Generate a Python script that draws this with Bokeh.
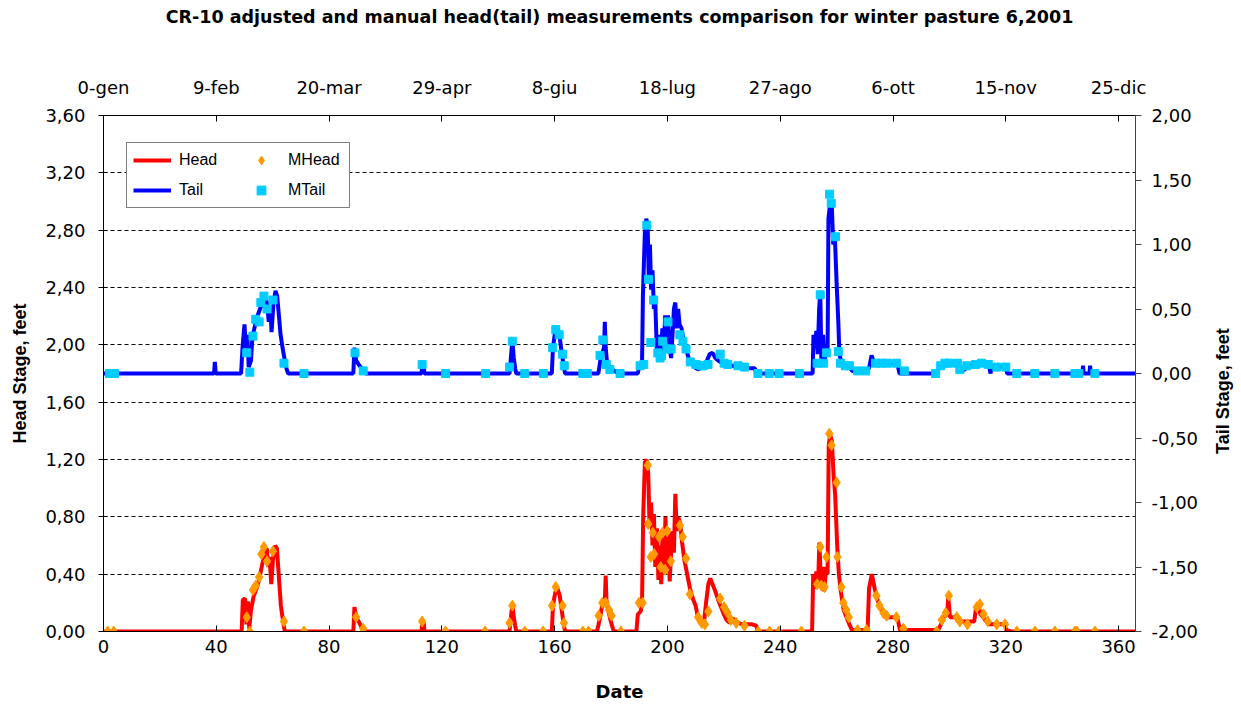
from bokeh.plotting import figure
from bokeh.layouts import row
from bokeh.models import (Range1d, LinearAxis, FixedTicker, CustomJSTickFormatter,
                          Legend, LegendItem, Label, Grid, ColumnDataSource)
from bokeh.embed import file_html
from bokeh.resources import INLINE

# ---------------- data ----------------
title_text = "CR-10 adjusted and manual head(tail) measurements comparison for winter pasture 6,2001"
left_title = "Head Stage, feet"
right_title = "Tail Stage, feet"
bottom_title = "Date"

x_ticks = [0, 40, 80, 120, 160, 200, 240, 280, 320, 360]
top_labels = ["0-gen", "9-feb", "20-mar", "29-apr", "8-giu", "18-lug", "27-ago", "6-ott", "15-nov", "25-dic"]
head_ticks = [0.0, 0.4, 0.8, 1.2, 1.6, 2.0, 2.4, 2.8, 3.2, 3.6]
tail_ticks = [-2.0, -1.5, -1.0, -0.5, 0.0, 0.5, 1.0, 1.5, 2.0]

head_line = [(0, 0), (49, 0), (49.4, 0.22), (50.2, 0.23), (50.7, 0.05), (51.2, 0.21), (51.7, 0.02), (52.3, 0.15),
             (53.3, 0.25), (54.3, 0.30), (55.3, 0.37), (56.3, 0.47), (57.2, 0.55), (57.9, 0.58), (58.4, 0.45),
             (58.9, 0.52), (59.5, 0.33), (60.1, 0.50), (60.9, 0.60), (61.5, 0.58), (62.2, 0.38), (62.9, 0.18),
             (63.7, 0.07), (64.3, 0),
             (88.6, 0), (89, 0.17), (89.6, 0.10), (90.5, 0.07), (91.5, 0.03), (92.5, 0),
             (112.8, 0), (113, 0.06), (113.6, 0.06), (113.8, 0),
             (144, 0), (144.4, 0.08), (145, 0.19), (145.5, 0.10), (146, 0.04), (146.4, 0),
             (159, 0), (159.4, 0.18), (160.2, 0.27), (161, 0.30), (161.8, 0.25), (162.5, 0.15), (163.2, 0.05), (163.7, 0),
             (175, 0), (175.6, 0.05), (176.3, 0.12), (177, 0.20), (177.8, 0.21), (178.1, 0.39), (178.4, 0.20),
             (179, 0.15), (179.8, 0.08), (180.5, 0.03), (181, 0),
             (189, 0), (189.5, 0.12), (190.5, 0.14), (191, 0.20), (191.4, 0.80), (192, 1.18), (192.6, 1.20),
             (193.2, 1.10), (193.6, 0.78), (194.2, 0.90), (194.7, 0.60), (195.2, 0.82), (195.7, 0.45), (196.3, 0.72),
             (196.8, 0.36), (197.3, 0.60), (197.8, 0.33), (198.3, 0.70), (198.8, 0.45), (199.3, 0.80), (199.8, 0.42),
             (200.3, 0.72), (200.8, 0.35), (201.3, 0.55), (201.8, 0.70), (202.3, 0.55), (202.8, 0.96), (203.3, 0.70),
             (203.8, 0.80), (204.5, 0.76), (205.2, 0.62), (206, 0.50), (207, 0.40), (208, 0.30), (209, 0.23),
             (210, 0.18), (210.8, 0.10), (211.5, 0.06), (212.3, 0.05), (213, 0.07), (213.7, 0.20), (214.5, 0.33),
             (215.2, 0.37), (216, 0.33), (217, 0.28), (218, 0.22), (219, 0.17), (220, 0.12), (221, 0.08),
             (222, 0.06), (223, 0.09), (224, 0.08), (225, 0.06), (226.5, 0.05), (228, 0.05), (230, 0.05),
             (231.5, 0.04), (232, 0),
             (251.3, 0), (251.7, 0.40), (252.3, 0.30), (252.8, 0.42), (253.4, 0.32), (253.9, 0.62), (254.4, 0.35),
             (255, 0.45), (255.6, 0.28), (256.3, 0.45), (256.8, 0.40), (257.2, 1.30), (257.7, 1.37), (258.3, 1.33),
             (258.9, 1.10), (259.5, 0.95), (260.2, 0.60), (260.8, 0.40), (261.5, 0.28), (262.5, 0.15), (263.5, 0.10),
             (264.5, 0.05), (265.5, 0.01),
             (271, 0.01), (271.5, 0.30), (272.5, 0.40), (273.5, 0.30), (274.5, 0.22), (275.5, 0.17), (276.5, 0.12),
             (277.5, 0.10), (279, 0.10), (281.5, 0.10), (282.5, 0.01),
             (296, 0.01), (297, 0.05), (298, 0.10), (299.2, 0.12), (299.6, 0.24), (300.2, 0.10), (302.5, 0.10),
             (303, 0.07), (308.8, 0.07), (309.5, 0.17), (310.3, 0.19), (311, 0.12), (312, 0.10), (313, 0.07),
             (314, 0.05), (319.5, 0.05), (320.2, 0.01), (322, 0), (366, 0)]

tail_line = [(0, 0), (39.2, 0), (39.5, 0.09), (39.8, 0),
             (48.8, 0), (49.3, 0.20), (50, 0.38), (50.5, 0.20), (51, 0.30), (51.5, 0.05), (52.3, 0.10), (52.8, 0.28),
             (53.5, 0.35), (54.5, 0.44), (55.5, 0.50), (56.5, 0.55), (57.3, 0.58), (58, 0.55), (58.6, 0.40),
             (59.2, 0.50), (59.6, 0.32), (60.3, 0.55), (61, 0.64), (61.6, 0.60), (62.2, 0.45), (62.8, 0.30),
             (63.5, 0.20), (64.3, 0.10), (65, 0.03), (65.5, 0),
             (88.6, 0), (89, 0.20), (89.6, 0.10), (90.5, 0.07), (91.5, 0.04), (92.5, 0.02), (93, 0),
             (112.8, 0), (113, 0.06), (113.6, 0.06), (113.8, 0),
             (144, 0), (144.4, 0.10), (145, 0.26), (145.5, 0.12), (146, 0.04), (146.4, 0),
             (159, 0), (159.4, 0.20), (160.2, 0.33), (161, 0.35), (161.8, 0.28), (162.5, 0.16), (163.2, 0.06), (163.7, 0),
             (175.5, 0), (176.2, 0.10), (176.8, 0.15), (177.5, 0.20), (177.8, 0.40), (178.1, 0.20), (178.6, 0.08),
             (179.5, 0.05), (180.5, 0.03), (182, 0.01), (183, 0),
             (189.5, 0), (190, 0.06), (191, 0.08), (191.3, 0.60), (192, 1.10), (192.5, 1.20), (193, 1.15),
             (193.4, 0.70), (193.8, 1.00), (194.2, 0.65), (194.7, 0.80), (195.2, 0.50), (195.7, 0.55), (196.2, 0.20),
             (196.7, 0.12), (197.2, 0.30), (197.7, 0.15), (198.2, 0.35), (198.7, 0.20), (199.2, 0.45), (199.7, 0.25),
             (200.2, 0.45), (200.7, 0.20), (201.3, 0.12), (201.8, 0.30), (202.3, 0.50), (202.8, 0.55), (203.3, 0.35),
             (203.8, 0.50), (204.3, 0.38), (205, 0.35), (205.8, 0.25), (206.5, 0.20), (207.5, 0.12), (208.5, 0.08),
             (209.5, 0.05), (211, 0.03), (212, 0.05), (213, 0.06), (214, 0.10), (215, 0.15), (216, 0.16),
             (217, 0.12), (218, 0.10), (219.5, 0.08), (221, 0.07), (223, 0.06), (225, 0.05), (227, 0.05),
             (229, 0.04), (231, 0.04), (231.5, 0),
             (251.5, 0), (251.8, 0.30), (252.3, 0.20), (252.8, 0.33), (253.3, 0.15), (253.8, 0.50), (254.2, 0.64),
             (254.6, 0.10), (255.2, 0.30), (255.7, 0.08), (256.3, 0.20), (256.8, 0.15), (257.1, 1.20), (257.6, 1.30),
             (258.3, 1.30), (258.8, 1.00), (259.4, 1.05), (260, 0.70), (260.6, 0.40), (261, 0.15), (261.8, 0.08),
             (263, 0.06), (264.5, 0.05), (265.5, 0.02), (271, 0.02), (271.6, 0.05), (272.4, 0.14), (273, 0.10),
             (274, 0.08), (281.5, 0.08), (282.3, 0),
             (295.5, 0), (296.5, 0.05), (297.5, 0.08), (303.3, 0.08), (303.7, 0.03), (305.5, 0.03), (306, 0.07),
             (308.5, 0.07), (309, 0.08), (313.5, 0.08), (314.2, 0.04), (314.6, 0.0), (315, 0.06), (316, 0.05),
             (320, 0.05), (320.5, 0),
             (347.2, 0), (347.4, 0.06), (347.6, 0), (349.7, 0), (349.9, 0.06), (350.1, 0), (366, 0)]

mhead_pts = [(1.5, 0), (3.6, 0), (50.8, 0.10), (51.9, 0), (53, 0.29), (54, 0.32), (55.2, 0.38), (56, 0.54),
             (56.9, 0.59), (58, 0.49), (60.1, 0.56), (64, 0.07), (71.1, 0), (89.6, 0.10), (92.1, 0.02), (113, 0.07),
             (121.3, 0), (135.3, 0), (144, 0.06), (145, 0.18), (149.4, 0), (155.9, 0), (159.1, 0.18), (160.4, 0.31),
             (162.8, 0.18), (163.3, 0.06), (170, 0), (172, 0), (175.6, 0.11), (176.9, 0.20), (178.1, 0.20),
             (179.3, 0.15), (180.2, 0.11), (183.5, 0), (189.9, 0.20), (191.2, 0.20), (193, 1.16), (193.2, 0.75),
             (194.1, 0.52), (194.8, 0.69), (195.3, 0.54), (197, 0.66), (197.6, 0.45), (198.3, 0.69), (199.2, 0.43),
             (199.9, 0.70), (201.2, 0.49), (204.4, 0.74), (205.4, 0.66), (206.6, 0.51), (208, 0.26), (210.9, 0.10),
             (212.2, 0.06), (213.3, 0.05), (214.5, 0.14), (218.7, 0.23), (220.1, 0.17), (221.3, 0.13), (222.5, 0.08),
             (224.4, 0.06), (227.3, 0.04), (232.2, 0), (236.2, 0), (239.5, 0), (247.5, 0), (253.1, 0.33),
             (254.2, 0.59), (254.6, 0.32), (255.7, 0.31), (256.4, 0.52), (257.4, 1.38), (258.2, 1.30), (260, 1.04),
             (260.3, 0.52), (261.7, 0.31), (262.4, 0.20), (263.4, 0.15), (264.3, 0.10), (267.4, 0.01), (270.6, 0.01),
             (274.1, 0.25), (275.2, 0.18), (276.6, 0.13), (277.7, 0.11), (281.2, 0.10), (283.7, 0.02), (295.5, 0),
             (297.3, 0.08), (298.7, 0.13), (299.8, 0.25), (302.6, 0.10), (303.7, 0.07), (306.4, 0.05), (309.7, 0.17),
             (310.8, 0.19), (312.1, 0.12), (313.6, 0.07), (316.8, 0.05), (319.7, 0.05), (323.9, 0), (330.3, 0),
             (337.4, 0), (344.5, 0), (345.2, 0), (351.6, 0)]

mtail_pts = [(2.1, 0), (3.9, 0), (50.8, 0.16), (51.9, 0.01), (53, 0.29), (54, 0.42), (55.2, 0.40), (55.8, 0.55),
             (56.9, 0.60), (58, 0.50), (60.1, 0.57), (64, 0.08), (71.1, 0), (89.2, 0.16), (92.1, 0.02), (113, 0.07),
             (121.3, 0), (135.5, 0), (144, 0.05), (145, 0.25), (149.4, 0), (156, 0), (159.3, 0.20), (160.4, 0.34),
             (161.6, 0.30), (162.8, 0.15), (163.4, 0.06), (170, 0), (171.6, 0), (176.1, 0.14), (177.1, 0.26),
             (178.3, 0.07), (179.6, 0.03), (183.2, 0), (190.3, 0.06), (191.6, 0.07), (192.7, 1.15), (193.3, 0.73),
             (194.1, 0.24), (195.1, 0.57), (196.6, 0.16), (197.4, 0.12), (197.9, 0.14), (198.3, 0.25), (199.8, 0.19),
             (200.2, 0.40), (201.3, 0.19), (204.4, 0.30), (205.5, 0.25), (206.6, 0.19), (208.1, 0.09), (210.1, 0.07),
             (211.9, 0.06), (212.7, 0.06), (214.4, 0.07), (218.7, 0.15), (220.1, 0.08), (221.4, 0.07), (225, 0.06),
             (227.3, 0.05), (232.1, 0), (236.1, 0), (239.6, 0), (246.8, 0), (253.1, 0.08), (254.2, 0.61),
             (255.4, 0.08), (256.4, 0.16), (257.5, 1.39), (258.1, 1.32), (259.6, 1.06), (260.6, 0.17), (261.4, 0.08),
             (263.1, 0.06), (264.5, 0.06), (267.4, 0.02), (270.3, 0.02), (273.8, 0.08), (275.9, 0.08), (278, 0.08),
             (281.2, 0.08), (284, 0.02), (295.1, 0), (296.9, 0.06), (298.4, 0.08), (299.8, 0.08), (302.9, 0.08),
             (303.7, 0.03), (306.2, 0.06), (309.3, 0.07), (311.4, 0.08), (313.8, 0.07), (316.8, 0.05), (320, 0.05),
             (323.9, 0), (330.3, 0), (337.4, 0), (344.5, 0), (345.9, 0), (351.6, 0)]

# ---------------- styling ----------------
WIDE = "DejaVu Sans"
ARIAL = "Liberation Sans"
FMT = "return tick.toFixed(2).replace('.', ',');"
MAIN_W = 1205
SIDE_W = 36
H = 704

p = figure(width=MAIN_W, height=H, output_backend="svg", toolbar_location=None,
           x_range=Range1d(0, 366), y_range=Range1d(0, 3.6),
           x_axis_location=None, y_axis_location=None,
           min_border_left=103, min_border_right=70, min_border_top=115, min_border_bottom=73,
           background_fill_color="white", border_fill_color="white")
p.extra_y_ranges = {"tail": Range1d(-2, 2)}
p.outline_line_color = "black"
p.outline_line_width = 1
for g in p.grid:
    g.visible = False

grid = Grid(dimension=1, ticker=FixedTicker(ticks=head_ticks[1:-1]),
            grid_line_color="black", grid_line_dash="4 3", grid_line_width=1)
p.add_layout(grid)


def style_axis(ax):
    ax.major_label_text_font = WIDE
    ax.major_label_text_font_size = "18px"
    ax.major_label_text_color = "black"
    ax.axis_label_text_font = ARIAL
    ax.axis_label_text_font_size = "18px"
    ax.axis_label_text_font_style = "bold"
    ax.axis_label_text_color = "black"
    ax.axis_line_color = "black"
    ax.major_tick_line_color = "black"
    ax.minor_tick_line_color = None


left = LinearAxis(ticker=FixedTicker(ticks=head_ticks), formatter=CustomJSTickFormatter(code=FMT),
                  axis_label=left_title)
style_axis(left)
left.major_tick_in = 4
left.major_tick_out = 5
left.major_label_standoff = 13
left.axis_label_standoff = 12
p.add_layout(left, "left")

right = LinearAxis(y_range_name="tail", ticker=FixedTicker(ticks=tail_ticks),
                   formatter=CustomJSTickFormatter(code=FMT))
style_axis(right)
right.major_tick_in = 0
right.major_tick_out = 6
right.major_label_standoff = 10
right.axis_line_color = "#444444"
right.major_tick_line_color = "#444444"
p.add_layout(right, "right")

bottom = LinearAxis(ticker=FixedTicker(ticks=x_ticks), axis_label=bottom_title)
style_axis(bottom)
bottom.axis_label_text_font = WIDE
bottom.major_tick_in = 6
bottom.major_tick_out = 0
bottom.major_label_standoff = 8
bottom.axis_label_standoff = 25
p.add_layout(bottom, "below")

# the chart title is carried by the top (date) axis as its axis label
top = LinearAxis(ticker=FixedTicker(ticks=x_ticks),
                 major_label_overrides={t: s for t, s in zip(x_ticks, top_labels)},
                 axis_label=title_text)
style_axis(top)
top.axis_label_text_font = WIDE
top.axis_label_text_font_size = "17.5px"
top.major_tick_in = 6
top.major_tick_out = 0
top.major_label_standoff = 18
top.axis_label_standoff = 47
p.add_layout(top, "above")

hs = ColumnDataSource(dict(x=[a for a, b in head_line], y=[b for a, b in head_line]))
ts = ColumnDataSource(dict(x=[a for a, b in tail_line], y=[b for a, b in tail_line]))
mhs = ColumnDataSource(dict(x=[a for a, b in mhead_pts], y=[b for a, b in mhead_pts]))
mts = ColumnDataSource(dict(x=[a for a, b in mtail_pts], y=[b for a, b in mtail_pts]))

r_head = p.line("x", "y", source=hs, line_color="#FF0000", line_width=4)
r_tail = p.line("x", "y", source=ts, line_color="#0000FF", line_width=4, y_range_name="tail")
r_mhead = p.scatter("x", "y", source=mhs, marker="diamond", size=11,
                    fill_color="#FF9900", line_color="#FF9900")
r_mtail = p.scatter("x", "y", source=mts, marker="square", size=8, fill_color="#00CCFF",
                    line_color="#00CCFF", y_range_name="tail")

legend = Legend(items=[LegendItem(label="Head", renderers=[r_head]),
                       LegendItem(label="Tail", renderers=[r_tail]),
                       LegendItem(label="MHead", renderers=[r_mhead]),
                       LegendItem(label="MTail", renderers=[r_mtail])],
                ncols=2, location=(23, 423), border_line_color="black", border_line_width=1,
                background_fill_color="white", background_fill_alpha=1,
                label_text_font=ARIAL, label_text_font_size="16px", label_text_color="black",
                glyph_width=38, glyph_height=22, label_standoff=8, label_width=55,
                spacing=8, padding=6, margin=0)
p.add_layout(legend)

# narrow side strip carrying the right-hand axis title, reading bottom to top
side = figure(width=SIDE_W, height=H, output_backend="svg", toolbar_location=None,
              x_range=Range1d(0, SIDE_W), y_range=Range1d(0, H),
              x_axis_location=None, y_axis_location=None,
              min_border_left=0, min_border_right=0, min_border_top=0, min_border_bottom=0,
              background_fill_color="white", border_fill_color="white", outline_line_color=None)
for g in side.grid:
    g.visible = False
side.add_layout(Label(x=17, y=328, text=right_title, text_align="center", text_baseline="middle",
                      angle=90, angle_units="deg", text_font=ARIAL, text_font_size="18px",
                      text_font_style="bold", text_color="black"))

open("out.html", "w").write(file_html(row(p, side), INLINE))
